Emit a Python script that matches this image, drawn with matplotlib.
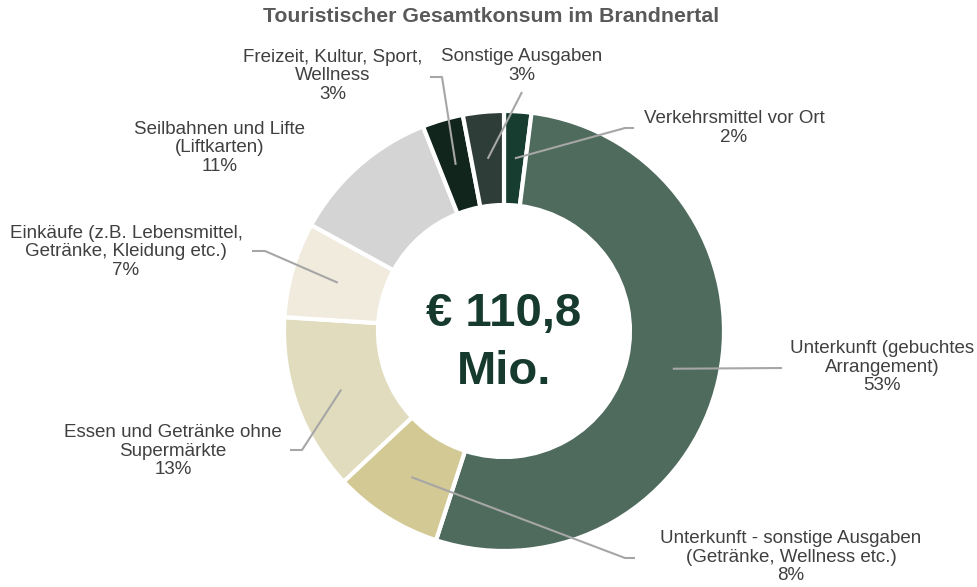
import numpy as np
import matplotlib
matplotlib.use("Agg")
import matplotlib.pyplot as plt

plt.rcParams['font.family'] = ['Liberation Sans', 'DejaVu Sans']

# data (share of total in %)
categories = [
    'Verkehrsmittel vor Ort',
    'Unterkunft (gebuchtes\nArrangement)',
    'Unterkunft - sonstige Ausgaben\n(Getränke, Wellness etc.)',
    'Essen und Getränke ohne\nSupermärkte',
    'Einkäufe (z.B. Lebensmittel,\nGetränke, Kleidung etc.)',
    'Seilbahnen und Lifte\n(Liftkarten)',
    'Freizeit, Kultur, Sport,\nWellness',
    'Sonstige Ausgaben',
]
shares = [2, 53, 8, 13, 7, 11, 3, 3]
colors = ['#173d30', '#4f6b5e', '#d3c994', '#e1dcbd', '#f1ebde',
          '#d4d4d4', '#11251c', '#2f3d38']

W, H = 977, 587
CX, CY, R, RIN = 504, 331, 220, 126

# label centre (px) and leader polyline from label side (px); None = no line
label_pos = [(734, 128), (882, 367), (791, 557), (173, 451),
             (126, 252), (220, 148), (333, 76), (522, 66)]
leader = [[(634, 128), (625, 128)],
          [(782, 368)],
          [(635, 558), (625, 558)],
          [(290, 450), (302, 450)],
          [(252, 251), (265, 251)],
          None,
          [(430, 77), (442, 77)],
          [(522, 92)]]


def fy(y):
    return H - y


fig = plt.figure(figsize=(W / 100, H / 100), dpi=100)
ax = fig.add_axes([0, 0, 1, 1])

wedges, _ = ax.pie(shares, colors=colors, startangle=90, counterclock=False,
                   radius=R, center=(CX, fy(CY)),
                   wedgeprops=dict(width=R - RIN, edgecolor='white', linewidth=3))

ax.set_xlim(0, W)
ax.set_ylim(0, H)
ax.set_aspect('equal')
ax.axis('off')

rmid = (R + RIN) / 2
for w, cat, s, (lx, ly), pts in zip(wedges, categories, shares, label_pos, leader):
    ax.text(lx, fy(ly), f"{cat}\n{s}%", ha='center', va='center',
            fontsize=13.5, color='#404040', linespacing=1.08)
    if pts is None:
        continue
    ang = np.deg2rad((w.theta1 + w.theta2) / 2)
    ax_pt = (CX + rmid * np.cos(ang), fy(CY) + rmid * np.sin(ang))
    xs = [p[0] for p in pts] + [ax_pt[0]]
    ys = [fy(p[1]) for p in pts] + [ax_pt[1]]
    ax.plot(xs, ys, color='#a6a6a6', lw=1.5, solid_capstyle='butt')

ax.text(CX, fy(314), '€ 110,8', ha='center', va='center', fontsize=34,
        fontweight='bold', color='#163b2e')
ax.text(CX, fy(372), 'Mio.', ha='center', va='center', fontsize=34,
        fontweight='bold', color='#163b2e')

fig.text(491 / W, 1 - 17 / H, 'Touristischer Gesamtkonsum im Brandnertal',
         ha='center', va='center', fontsize=15.3, fontweight='bold', color='#595959')

fig.savefig('out.png', dpi=100)
